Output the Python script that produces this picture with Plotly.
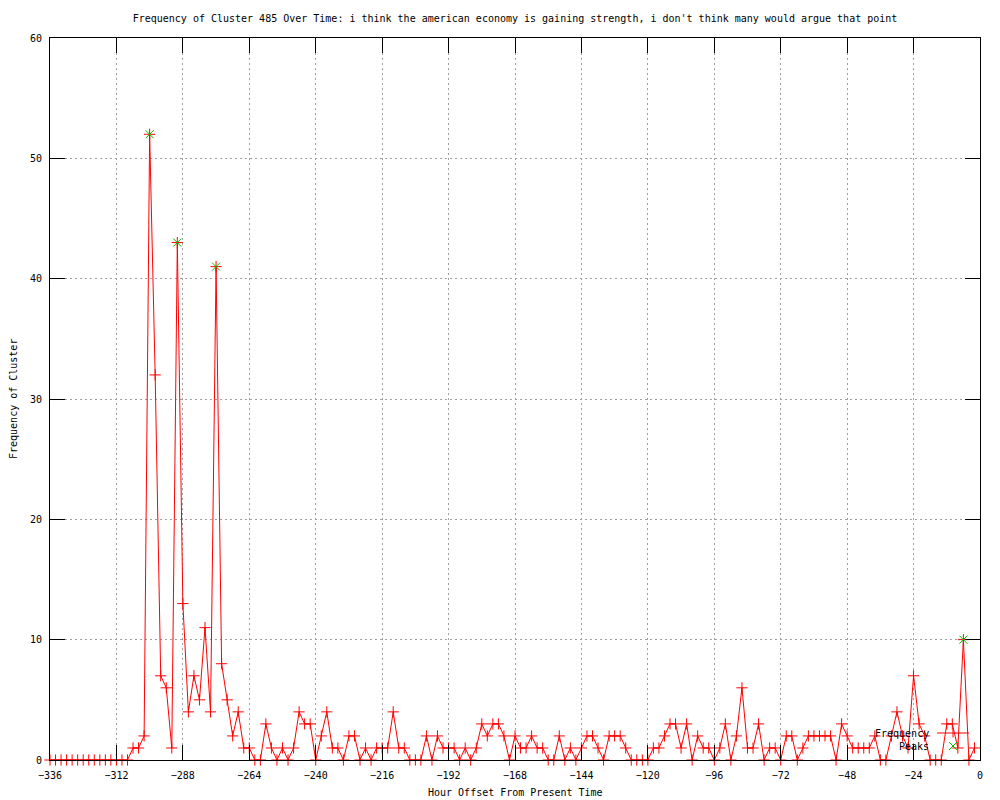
import plotly.graph_objects as go

# ---- data ----
hours = list(range(-336, 0, 2))
frequency = [0] * 15 + [
    1, 1, 2, 52, 32, 7, 6, 1, 43, 13, 4, 7, 5, 11, 4, 41, 8, 5, 2, 4, 1, 1,
    0, 0, 3, 1, 0, 1, 0, 1, 4, 3, 3, 0, 2, 4, 1, 1, 0, 2, 2, 0, 1, 0, 1, 1,
    1, 4, 1, 1, 0, 0, 0, 2, 0, 2, 1, 1, 1, 0, 1, 0, 1, 3, 2, 3, 3, 2, 0, 2,
    1, 1, 2, 1, 1, 0, 0, 2, 0, 1, 0, 1, 2, 2, 1, 0, 2, 2, 2, 1, 0, 0, 0, 0,
    1, 1, 2, 3, 3, 1, 3, 0, 2, 1, 1, 0, 1, 3, 0, 2, 6, 1, 1, 3, 0, 1, 1, 0,
    2, 2, 0, 1, 2, 2, 2, 2, 2, 0, 3, 2, 1, 1, 1, 1, 2, 0, 0, 2, 4, 2, 1, 7,
    3, 2, 0, 0, 0, 3, 3, 1, 10, 0, 1,
]
peak_hours = [-300, -290, -276, -6]
peak_values = [52, 43, 41, 10]
x_ticks = list(range(-336, 1, 24))
y_ticks = list(range(0, 61, 10))

title_text = ("Frequency of Cluster 485 Over Time: i think the american economy is "
              "gaining strength, i don't think many would argue that point")

FONT = "DejaVu Sans Mono"
RED = "#ff0000"
GREEN = "#00c000"

# the page body has an 8px margin; compensate so page pixels match the reference
OFF = 8
W, H = 1000 - OFF, 800 - OFF
L, R, T, B = 50, 980, 38, 760   # plot area in page pixels


def px(xp):
    return (xp - L) / (R - L)


def py(yp):
    return (B - yp) / (B - T)


fig = go.Figure()
fig.add_trace(go.Scatter(
    x=hours, y=frequency, mode="lines+markers", name="Frequency",
    line=dict(color=RED, width=1),
    marker=dict(symbol="cross-thin", size=8, line=dict(color=RED, width=1), color=RED),
    cliponaxis=False, showlegend=False,
))
fig.add_trace(go.Scatter(
    x=peak_hours, y=peak_values, mode="markers", name="Peaks",
    marker=dict(symbol="x-thin", size=8, line=dict(color=GREEN, width=1), color=GREEN),
    cliponaxis=False, showlegend=False,
))

axis_common = dict(
    showline=True, linecolor="black", linewidth=1, mirror="ticks",
    ticks="inside", ticklen=15, tickcolor="black", tickwidth=1,
    showgrid=True, gridcolor="#a0a0a0", gridwidth=1, griddash="2px,3px",
    zeroline=False, tickfont=dict(family=FONT, size=10, color="black"),
    automargin=False,
)

fig.update_layout(
    width=W, height=H,
    margin=dict(l=L - OFF, r=W - (R - OFF), t=T - OFF, b=H - (B - OFF), pad=0),
    paper_bgcolor="white", plot_bgcolor="white",
    title=dict(text=title_text, x=(515 - OFF) / W, xanchor="center", xref="container",
               y=1 - (18 - OFF) / H, yanchor="middle", yref="container",
               font=dict(family=FONT, size=10, color="black")),
    xaxis=dict(range=[-336, 0], tickvals=x_ticks, ticklabelstandoff=6, **axis_common),
    yaxis=dict(range=[0, 60], tickvals=y_ticks, ticklabelstandoff=5, **axis_common),
    showlegend=False,
)

annotations = [
    dict(text="Hour Offset From Present Time", xref="paper", yref="paper",
         x=0.5, y=py(792), xanchor="center", yanchor="middle", showarrow=False,
         font=dict(family=FONT, size=10, color="black")),
    dict(text="Frequency of Cluster", xref="paper", yref="paper",
         x=px(13), y=0.5, xanchor="center", yanchor="middle", showarrow=False,
         textangle=-90, font=dict(family=FONT, size=10, color="black")),
    dict(text="Frequency", xref="paper", yref="paper",
         x=px(931), y=py(733), xanchor="right", yanchor="middle", showarrow=False,
         font=dict(family=FONT, size=10, color="black")),
    dict(text="Peaks", xref="paper", yref="paper",
         x=px(931), y=py(746), xanchor="right", yanchor="middle", showarrow=False,
         font=dict(family=FONT, size=10, color="black")),
]
fig.update_layout(annotations=annotations)

shapes = [
    dict(type="line", xref="paper", yref="paper", x0=px(937), x1=px(969),
         y0=py(733), y1=py(733), line=dict(color=RED, width=1)),
    dict(type="line", xref="paper", yref="paper", x0=px(953), x1=px(953),
         y0=py(737.5), y1=py(728.5), line=dict(color=RED, width=1)),
    dict(type="line", xref="paper", yref="paper", x0=px(949), x1=px(957),
         y0=py(742), y1=py(750), line=dict(color=GREEN, width=1)),
    dict(type="line", xref="paper", yref="paper", x0=px(949), x1=px(957),
         y0=py(750), y1=py(742), line=dict(color=GREEN, width=1)),
]
fig.update_layout(shapes=shapes)

fig.write_html("out.html")
